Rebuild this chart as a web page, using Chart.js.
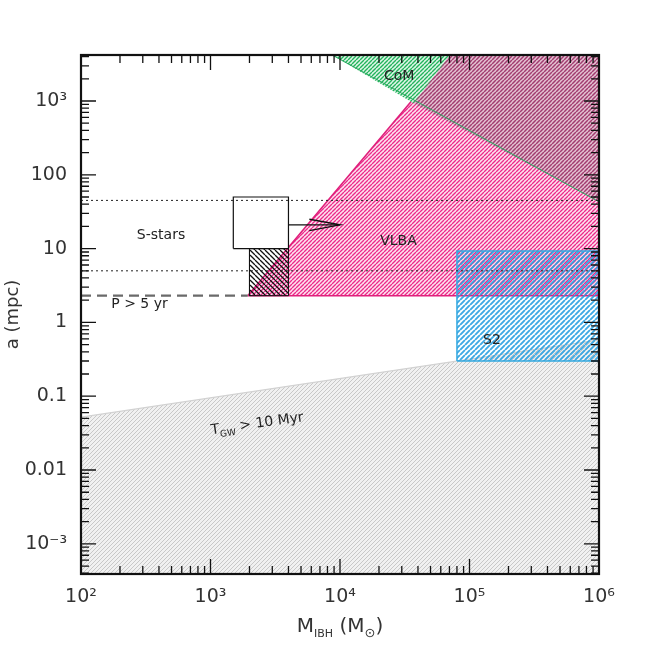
<!DOCTYPE html>
<html><head><meta charset="utf-8">
<script src="https://cdn.jsdelivr.net/npm/chart.js@4/dist/chart.umd.min.js"></script>
<style>html,body{margin:0;padding:0;background:#fff}#wrap{width:654px;height:654px;position:relative}</style>
</head><body><div id="wrap"><canvas id="c" width="654" height="654"></canvas></div>
<script>
// ---- axis ranges & tick labels ----
const xRange = [100, 1e6];
const yRange = [3.9e-4, 4200];
const xTicks = [1e2, 1e3, 1e4, 1e5, 1e6];
const xTickLabels = ['10²', '10³', '10⁴', '10⁵', '10⁶'];
const yTicks = [1e-3, 0.01, 0.1, 1, 10, 100, 1e3];
const yTickLabels = ['10⁻³', '0.01', '0.1', '1', '10', '100', '10³'];

// ---- regions (M_IBH in Msun, a in mpc) ----
const gwM   = [100, 1e6, 1e6, 100, 100];
const gwA   = [0.052, 0.58, 3.9e-4, 3.9e-4, 0.052];
const vlbaM = [1.94e3, 7.1e4, 1e6, 1e6, 1.94e3];
const vlbaA = [2.3, 4200, 4200, 2.3, 2.3];
const s2M   = [8e4, 1e6, 1e6, 8e4, 8e4];
const s2A   = [0.3, 0.3, 9.3, 9.3, 0.3];
const comM  = [8.7e3, 3.7e4, 7.1e4, 8.7e3];
const comA  = [4200, 930, 4200, 4200];
const overlapM = [3.7e4, 1e6, 1e6, 7.1e4, 3.7e4];
const overlapA = [930, 43, 4200, 4200, 930];
const comLineM = [8.7e3, 1e6];
const comLineA = [4200, 43];
const hatchBoxM = [2e3, 4e3, 4e3, 2e3, 2e3];
const hatchBoxA = [2.3, 2.3, 10, 10, 2.3];
const sBoxM = [1.5e3, 4e3, 4e3, 1.5e3, 1.5e3];
const sBoxA = [10, 10, 50, 50, 10];
const arrowM = [4e3, 1e4];
const arrowA = [21, 21];
const headM = [5.8e3, 1e4, 5.8e3];
const headA = [25, 21, 17.5];
const dot1M = [100, 1e6], dot1A = [45, 45];
const dot2M = [100, 1e6], dot2A = [5, 5];
const periodM = [100, 1.94e3], periodA = [2.3, 2.3];

// ---- annotations ----
const noteText = ['CoM', 'VLBA', 'S-stars', 'P > 5 yr', 'S2'];
const noteM = [2.86e4, 2.83e4, 415, 283, 1.49e5];
const noteA = [2180, 12.5, 14.9, 1.75, 0.58];
const gwNoteM = 2.29e3, gwNoteA = 0.0438;

const pts = (xs, ys) => xs.map((v, i) => ({x: v, y: ys[i]}));

const canvas = document.getElementById('c');
const mctx = canvas.getContext('2d');
function hatch(lineColor, bgColor, size, lw, dir) {
  const t = document.createElement('canvas');
  t.width = size; t.height = size;
  const g = t.getContext('2d');
  if (bgColor) { g.fillStyle = bgColor; g.fillRect(0, 0, size, size); }
  g.strokeStyle = lineColor; g.lineWidth = lw; g.beginPath();
  for (let k = -1; k <= 1; k++) {
    if (dir > 0) { g.moveTo(k * size, size); g.lineTo(k * size + size, 0); }
    else { g.moveTo(k * size, 0); g.lineTo(k * size + size, size); }
  }
  g.stroke();
  return mctx.createPattern(t, 'repeat');
}
const grayPat    = hatch('#c8c8c8', '#f1f1f1', 4, 1, 1);
const pinkPat    = hatch('#ec2a8a', '#fde3ef', 4, 1.35, 1);
const overlapPat = hatch('#a23c70', '#e3c3d2', 4, 1.5, 1);
const bluePat    = hatch('rgba(40,160,225,0.9)', null, 5, 1.9, 1);
const greenPat   = hatch('#22b45c', '#dff5e7', 4, 1.4, 1);
const blackPat   = hatch('#111', null, 5, 1.3, -1);

const poly = (label, xs, ys, bg, border, bw, order) => ({
  label, data: pts(xs, ys), showLine: true, pointRadius: 0, fill: 'shape',
  backgroundColor: bg, borderColor: border, borderWidth: bw, order, tension: 0
});
const line = (label, xs, ys, color, bw, dash, order) => ({
  label, data: pts(xs, ys), showLine: true, pointRadius: 0, fill: false,
  borderColor: color, borderWidth: bw, borderDash: dash, order, tension: 0
});

const FONT = "'DejaVu Sans', 'Liberation Sans', sans-serif";

const decor = {
  id: 'decor',
  afterDatasetsDraw(chart) {
    const {ctx, chartArea: a, scales: {x, y}} = chart;
    ctx.save();
    const maj = 15, mnr = 8;
    function each(scale, lo, hi, cb) {
      for (let e = Math.floor(Math.log10(lo)); e <= Math.ceil(Math.log10(hi)); e++) {
        for (let k = 1; k < 10; k++) {
          const v = k * Math.pow(10, e);
          if (v < lo * 0.999 || v > hi * 1.001) continue;
          cb(scale.getPixelForValue(v), k === 1);
        }
      }
    }
    ctx.strokeStyle = '#111'; ctx.lineWidth = 1.3; ctx.beginPath();
    each(x, x.min, x.max, (px, M) => { const L = M ? maj : mnr;
      ctx.moveTo(px, a.bottom); ctx.lineTo(px, a.bottom - L);
      ctx.moveTo(px, a.top); ctx.lineTo(px, a.top + L); });
    each(y, y.min, y.max, (py, M) => { const L = M ? maj : mnr;
      ctx.moveTo(a.left, py); ctx.lineTo(a.left + L, py);
      ctx.moveTo(a.right, py); ctx.lineTo(a.right - L, py); });
    ctx.stroke();
    ctx.lineWidth = 2.2;
    ctx.strokeRect(a.left, a.top, a.right - a.left, a.bottom - a.top);

    ctx.fillStyle = '#222'; ctx.textAlign = 'center'; ctx.textBaseline = 'middle';
    ctx.font = '14px ' + FONT;
    noteText.forEach((t, i) => ctx.fillText(t, x.getPixelForValue(noteM[i]), y.getPixelForValue(noteA[i])));

    const parts = [['T', 14, 0], ['GW', 9, 4], [' > 10 Myr', 14, 0]];
    let w = 0;
    parts.forEach(p => { ctx.font = p[1] + 'px ' + FONT; w += ctx.measureText(p[0]).width; });
    ctx.save();
    ctx.translate(x.getPixelForValue(gwNoteM), y.getPixelForValue(gwNoteA));
    ctx.rotate(-8 * Math.PI / 180);
    ctx.textAlign = 'left'; ctx.textBaseline = 'alphabetic';
    let cx = -w / 2;
    parts.forEach(p => { ctx.font = p[1] + 'px ' + FONT; ctx.fillText(p[0], cx, 5 + p[2]); cx += ctx.measureText(p[0]).width; });
    ctx.restore();

    const tparts = [['M', 20, 0], ['IBH', 11, 5], [' (M', 20, 0], ['⊙', 13, 5], [')', 20, 0]];
    let tw = 0;
    tparts.forEach(p => { ctx.font = p[1] + 'px ' + FONT; tw += ctx.measureText(p[0]).width; });
    ctx.fillStyle = '#333'; ctx.textAlign = 'left'; ctx.textBaseline = 'alphabetic';
    let tx = (a.left + a.right) / 2 - tw / 2;
    tparts.forEach(p => { ctx.font = p[1] + 'px ' + FONT; ctx.fillText(p[0], tx, a.bottom + 58 + p[2]); tx += ctx.measureText(p[0]).width; });
    ctx.restore();
  }
};

new Chart(canvas, {
  type: 'scatter',
  data: {
    datasets: [
      line('arrow', arrowM, arrowA, '#111', 1.2, [], 1),
      line('arrowhead', headM, headA, '#111', 1.4, [], 1),
      line('P > 5 yr', periodM, periodA, '#6a6a6a', 2.2, [10, 6], 2),
      line('dotted 45', dot1M, dot1A, '#222', 1, [2, 3], 3),
      line('dotted 5', dot2M, dot2A, '#222', 1, [2, 3], 3),
      poly('S-stars box', sBoxM, sBoxA, '#ffffff', '#111', 1.2, 4),
      poly('hatched box', hatchBoxM, hatchBoxA, blackPat, '#111', 1, 5),
      line('CoM edge', comLineM, comLineA, '#2aa860', 1, [], 6),
      poly('CoM', comM, comA, greenPat, 'rgba(0,0,0,0)', 0, 6.5),
      poly('CoM x VLBA', overlapM, overlapA, overlapPat, 'rgba(0,0,0,0)', 0, 6.6),
      poly('S2', s2M, s2A, bluePat, '#35a9e0', 1.5, 7),
      poly('VLBA', vlbaM, vlbaA, pinkPat, '#e0207c', 1.6, 8),
      poly('T_GW', gwM, gwA, grayPat, '#d2d2d2', 1.2, 9)
    ]
  },
  options: {
    responsive: false, animation: false,
    layout: {padding: {top: 55, right: 55, left: 0, bottom: 0}},
    plugins: {legend: {display: false}, tooltip: {enabled: false}},
    scales: {
      x: {
        type: 'logarithmic', min: xRange[0], max: xRange[1],
        afterBuildTicks: s => { s.ticks = xTicks.map(v => ({value: v})); },
        afterFit: s => { s.height = 80; },
        grid: {display: false, drawTicks: false}, border: {display: false},
        ticks: {padding: 12, autoSkip: false, maxRotation: 0, color: '#333',
          font: {family: FONT, size: 19},
          callback: v => xTickLabels[xTicks.findIndex(t => Math.abs(t - v) / t < 1e-6)]}
      },
      y: {
        type: 'logarithmic', min: yRange[0], max: yRange[1],
        afterBuildTicks: s => { s.ticks = yTicks.map(v => ({value: v})); },
        afterFit: s => { s.width = 81; },
        grid: {display: false, drawTicks: false}, border: {display: false},
        title: {display: true, text: 'a (mpc)', color: '#333', font: {family: FONT, size: 18}, padding: {top: 3, bottom: 0}},
        ticks: {padding: 14, autoSkip: false, color: '#333',
          font: {family: FONT, size: 19},
          callback: v => yTickLabels[yTicks.findIndex(t => Math.abs(t - v) / t < 1e-6)]}
      }
    }
  },
  plugins: [decor]
});
</script>
</body></html>
